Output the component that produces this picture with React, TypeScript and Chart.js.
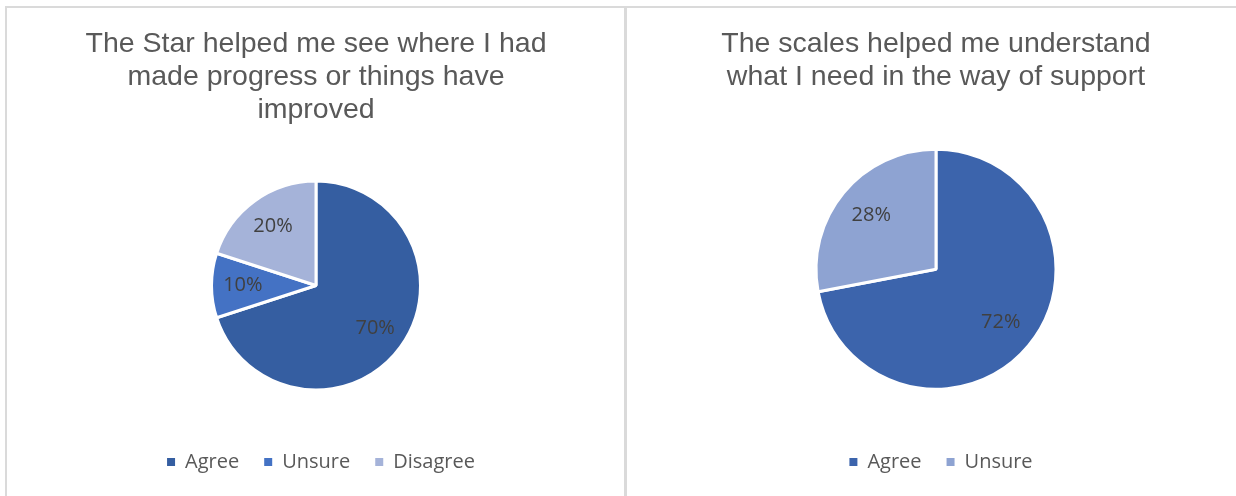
import React, { useEffect, useRef } from "react";
import { Chart, registerables } from "chart.js";

Chart.register(...registerables);

// ---- Data ----
const leftTitle = ["The Star helped me see where I had", "made progress or things have", "improved"];
const leftCategories = ["Agree", "Unsure", "Disagree"];
const leftValues = [70, 10, 20];
const leftColors = ["#355EA1", "#4472C4", "#A5B3D9"];

const rightTitle = ["The scales helped me understand", "what I need in the way of support"];
const rightCategories = ["Agree", "Unsure"];
const rightValues = [72, 28];
const rightColors = ["#3C64AC", "#8EA3D2"];

const pieLabels = {
  id: "pieLabels",
  afterDatasetsDraw(chart: any) {
    const ctx = chart.ctx;
    const meta = chart.getDatasetMeta(0);
    const data = chart.data.datasets[0].data;
    ctx.save();
    ctx.font = "20px 'Open Sans', sans-serif";
    ctx.fillStyle = "#404040";
    ctx.textAlign = "center";
    ctx.textBaseline = "middle";
    meta.data.forEach((arc: any, i: number) => {
      const { x, y, startAngle, endAngle, outerRadius } = arc.getProps(
        ["x", "y", "startAngle", "endAngle", "outerRadius"],
        true
      );
      const mid = (startAngle + endAngle) / 2;
      const r = outerRadius * 0.7;
      ctx.fillText(data[i] + "%", x + Math.cos(mid) * r, y + Math.sin(mid) * r);
    });
    ctx.restore();
  },
};

// nudges the legend block slightly right, as in the reference
const legendShift = {
  id: "legendShift",
  afterLayout(chart: any) {
    if (chart.legend) {
      chart.legend.left += 5;
      chart.legend.right += 5;
    }
  },
};

type PieProps = {
  left: number;
  width: number;
  title: string[];
  categories: string[];
  values: number[];
  colors: string[];
  radius: number;
  padLeft: number;
  titlePadBottom: number;
};

function PieChart(p: PieProps) {
  const ref = useRef<HTMLCanvasElement>(null);
  useEffect(() => {
    if (!ref.current) return;
    const chart = new Chart(ref.current, {
      type: "pie",
      data: {
        labels: p.categories,
        datasets: [
          {
            data: p.values,
            backgroundColor: p.colors,
            borderColor: "#ffffff",
            borderWidth: 3,
            radius: p.radius,
          } as any,
        ],
      },
      options: {
        responsive: false,
        animation: false,
        events: [],
        layout: { padding: { left: p.padLeft, right: 0, top: 28, bottom: 14 } },
        plugins: {
          title: {
            display: true,
            text: p.title,
            color: "#595959",
            font: {
              family: "'Liberation Sans', Arial, sans-serif",
              size: 28.5,
              weight: "normal",
              lineHeight: "33px",
            } as any,
            padding: { top: 0, bottom: p.titlePadBottom },
          },
          legend: {
            display: true,
            position: "bottom",
            labels: {
              boxWidth: 8,
              boxHeight: 8,
              padding: 25,
              color: "#595959",
              font: { family: "'Open Sans', sans-serif", size: 20 },
              generateLabels: (c: any) =>
                c.data.labels.map((l: string, i: number) => ({
                  text: l,
                  fillStyle: p.colors[i],
                  strokeStyle: p.colors[i],
                  lineWidth: 0,
                  hidden: false,
                  index: i,
                  fontColor: "#595959",
                })),
            },
          },
          tooltip: { enabled: false },
        },
      },
      plugins: [pieLabels, legendShift],
    });
    return () => chart.destroy();
  }, []);
  return (
    <canvas
      ref={ref}
      width={p.width}
      height={496}
      style={{ position: "absolute", left: p.left, top: 0, width: p.width, height: 496 }}
    />
  );
}

export default function App() {
  return (
    <div
      style={{
        position: "fixed",
        left: 0,
        top: 0,
        width: 1236,
        height: 496,
        background: "#ffffff",
        overflow: "hidden",
      }}
    >
      <PieChart
        left={0}
        width={625}
        title={leftTitle}
        categories={leftCategories}
        values={leftValues}
        colors={leftColors}
        radius={104.5}
        padLeft={7}
        titlePadBottom={17}
      />
      <PieChart
        left={627}
        width={609}
        title={rightTitle}
        categories={rightCategories}
        values={rightValues}
        colors={rightColors}
        radius={120}
        padLeft={9}
        titlePadBottom={17.4}
      />
      <div style={{ position: "absolute", left: 5, top: 6, width: 1231, height: 2, background: "#dadada" }} />
      <div style={{ position: "absolute", left: 5, top: 6, width: 2, height: 490, background: "#dadada" }} />
      <div style={{ position: "absolute", left: 624, top: 6, width: 3, height: 490, background: "#dadada" }} />
    </div>
  );
}
